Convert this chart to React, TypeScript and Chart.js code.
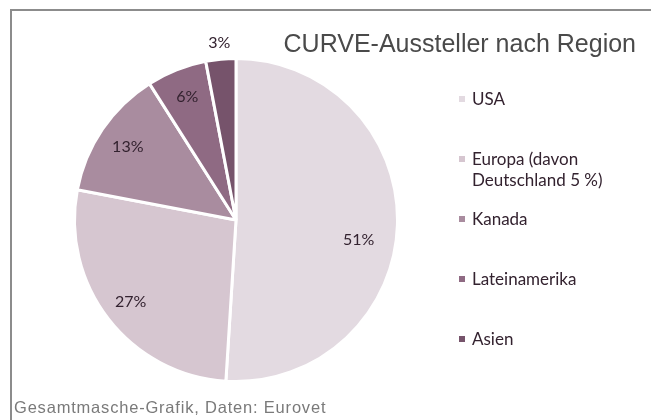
import React, { useEffect, useRef } from "react";
import { Chart, registerables } from "chart.js";

Chart.register(...registerables);

const categories: (string | string[])[] = [
  "USA",
  ["Europa (davon", "Deutschland 5 %)"],
  "Kanada",
  "Lateinamerika",
  "Asien",
];
const shares = [51, 27, 13, 6, 3];
const valueLabels = ["51%", "27%", "13%", "6%", "3%"];
const sliceColors = ["#e3dae1", "#d6c6d0", "#a98c9f", "#8f6a83", "#76536b"];
const titleText = "CURVE-Aussteller nach Region";
const footerText = "Gesamtmasche-Grafik, Daten: Eurovet";

const labelRadius = [0.76, 0.825, 0.81, 0.82, 1.1];
const labelNudgeY = [16, 0, 0, 0, 0];

const decorPlugin = {
  id: "decor",
  afterDraw(chart: any) {
    const ctx = chart.ctx as CanvasRenderingContext2D;
    ctx.save();
    // frame
    ctx.fillStyle = "#8c8c8c";
    ctx.fillRect(10, 9, 641, 2);
    ctx.fillRect(10, 9, 2, 411);

    // title
    ctx.fillStyle = "#4a4a4a";
    ctx.font = "25px 'Liberation Sans', Arial, sans-serif";
    ctx.textAlign = "right";
    ctx.textBaseline = "middle";
    ctx.fillText(titleText, 636, 45);

    // footer
    ctx.fillStyle = "#7a7a7a";
    ctx.font = "16.5px 'Liberation Sans', Arial, sans-serif";
    (ctx as any).letterSpacing = "0.8px";
    ctx.textAlign = "left";
    ctx.fillText(footerText, 14, 408);
    (ctx as any).letterSpacing = "0px";

    // slice labels
    const meta = chart.getDatasetMeta(0);
    ctx.font = "16px Lato, 'Open Sans', sans-serif";
    ctx.fillStyle = "#33222f";
    ctx.textAlign = "center";
    ctx.textBaseline = "middle";
    meta.data.forEach((arc: any, i: number) => {
      const p = arc.getProps(["x", "y", "startAngle", "endAngle", "outerRadius"], true);
      const mid = (p.startAngle + p.endAngle) / 2;
      const r = p.outerRadius * labelRadius[i];
      ctx.fillText(valueLabels[i], p.x + Math.cos(mid) * r, p.y + Math.sin(mid) * r + labelNudgeY[i]);
    });

    // legend
    ctx.font = "17px Lato, 'Open Sans', sans-serif";
    ctx.textAlign = "left";
    categories.forEach((cat, i) => {
      const y = 100 + 60 * i;
      ctx.fillStyle = sliceColors[i];
      ctx.fillRect(459, y - 4, 6, 6);
      ctx.fillStyle = "#33222f";
      const lines = Array.isArray(cat) ? cat : [cat];
      lines.forEach((line, j) => {
        ctx.fillText(line, 472, y + j * 21);
      });
    });
    ctx.restore();
  },
};

export default function App() {
  const canvasRef = useRef<HTMLCanvasElement>(null);
  useEffect(() => {
    const chart = new Chart(canvasRef.current!, {
      type: "pie",
      data: {
        labels: categories as any,
        datasets: [
          {
            data: shares,
            backgroundColor: sliceColors,
            borderColor: "#ffffff",
            borderWidth: 3,
          },
        ],
      },
      options: {
        animation: false,
        responsive: false,
        layout: { padding: { left: 73, right: 252, top: 57, bottom: 37 } },
        plugins: {
          legend: { display: false },
          tooltip: { enabled: false },
        },
      },
      plugins: [decorPlugin],
    });
    return () => chart.destroy();
  }, []);
  return (
    <div style={{ position: "absolute", left: 0, top: 0, width: 651, height: 420, background: "#fff" }}>
      <canvas ref={canvasRef} width={651} height={420} style={{ width: 651, height: 420 }} />
    </div>
  );
}
